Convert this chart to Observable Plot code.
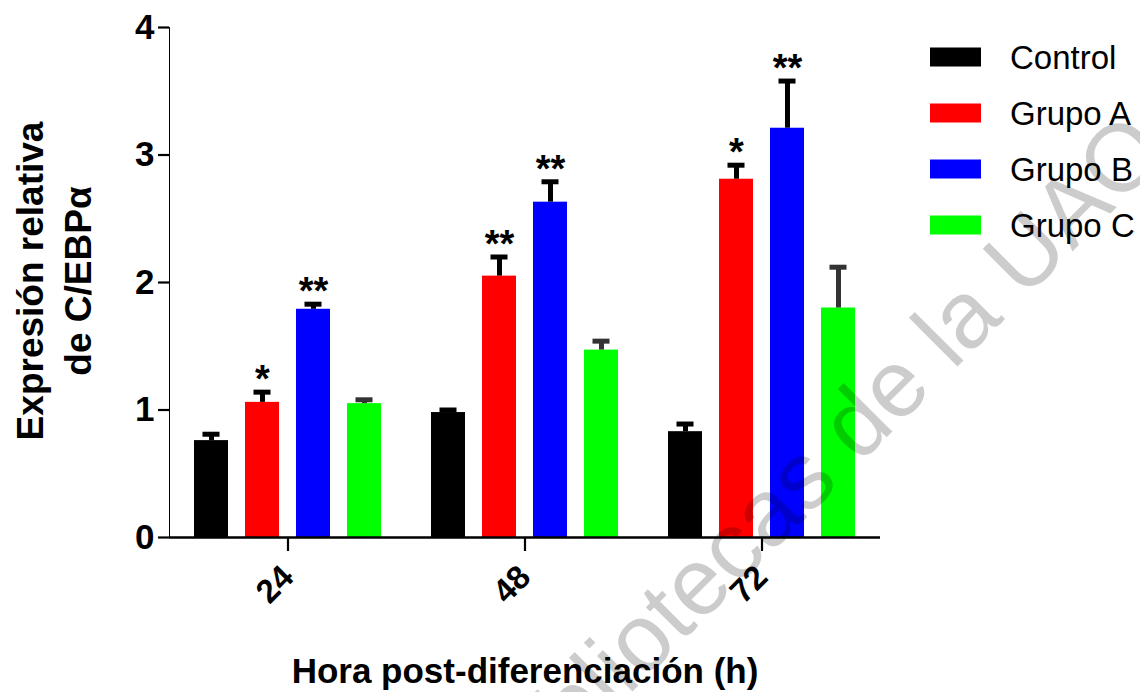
<!DOCTYPE html>
<html><head><meta charset="utf-8">
<script src="https://cdn.jsdelivr.net/npm/d3@7"></script>
<script src="https://cdn.jsdelivr.net/npm/@observablehq/plot@0.6"></script>
<style>
html,body{margin:0;padding:0;background:#fff;}
#chart{position:relative;width:1140px;height:692px;overflow:hidden;}
svg{font-family:"Liberation Sans",Arial,sans-serif;}
[aria-label^="y-axis"] text{font-size:35px;font-weight:bold;fill:#000;}
[aria-label^="fx-axis"] text{font-size:33px;font-weight:bold;fill:#000;}
[aria-label^="y-axis"] line,[aria-label^="y-axis"] path{stroke-width:2.2px;stroke:#000;}
[aria-label^="fx-axis"] line,[aria-label^="fx-axis"] path{stroke-width:2.2px;stroke:#000;}
</style></head><body><div id="chart"></div>
<script>
const hours = ["24", "48", "72"];
const groups = ["Control", "Grupo A", "Grupo B", "Grupo C"];
const colors = ["#000000", "#ff0000", "#0000ff", "#00ff00"];
const yTicks = [0, 1, 2, 3, 4];

const control = [0.76, 0.98, 0.83];
const grupoA = [1.06, 2.05, 2.81];
const grupoB = [1.79, 2.63, 3.21];
const grupoC = [1.05, 1.47, 1.80];

const errControl = [0.05, 0.02, 0.06];
const errA = [0.08, 0.15, 0.11];
const errB = [0.04, 0.16, 0.37];
const errC = [0.03, 0.07, 0.32];

const sigControl = ["", "", ""];
const sigA = ["*", "**", "*"];
const sigB = ["**", "**", "**"];
const sigC = ["", "", ""];

const xTitle = "Hora post-diferenciación (h)";
const yTitle = ["Expresión relativa", "de C/EBPα"];
const watermark = "Bibliotecas de la UAQ";

const seriesList = [
  [control, errControl, sigControl],
  [grupoA, errA, sigA],
  [grupoB, errB, sigB],
  [grupoC, errC, sigC]
];
const data = [];
hours.forEach((h, i) => {
  groups.forEach((g, j) => {
    const [m, e, s] = seriesList[j];
    data.push({hour: h, group: g, value: m[i], upper: m[i] + e[i], sig: s[i]});
  });
});

const plot = Plot.plot({
  width: 1140,
  height: 692,
  marginLeft: 168,
  marginRight: 260,
  marginTop: 27,
  marginBottom: 155,
  style: {fontFamily: "'Liberation Sans', Arial, sans-serif", background: "#fff", color: "#000"},
  fx: {domain: hours, padding: 0, label: null, tickSize: 14, tickPadding: 20, tickRotate: -45},
  x: {domain: groups, axis: null, paddingInner: 0.333, paddingOuter: 0.49, round: false},
  y: {domain: [0, 4], ticks: yTicks, tickFormat: d => String(d), tickSize: 11, tickPadding: 4, label: null, line: true},
  color: {domain: groups, range: colors},
  marks: [
    Plot.barY(data, {fx: "hour", x: "group", y: "value", fill: "group"}),
    Plot.ruleX(data, {filter: d => d.group !== "Grupo C", fx: "hour", x: "group", y1: "value", y2: "upper", stroke: "#000", strokeWidth: 5}),
    Plot.tickY(data, {filter: d => d.group !== "Grupo C", fx: "hour", x: "group", y: "upper", stroke: "#000", strokeWidth: 5, insetLeft: 8.5, insetRight: 8.5}),
    Plot.ruleX(data, {filter: d => d.group === "Grupo C", fx: "hour", x: "group", y1: "value", y2: "upper", stroke: "#333", strokeWidth: 5}),
    Plot.tickY(data, {filter: d => d.group === "Grupo C", fx: "hour", x: "group", y: "upper", stroke: "#333", strokeWidth: 5, insetLeft: 8.5, insetRight: 8.5}),
    Plot.text(data, {fx: "hour", x: "group", y: "upper", text: "sig", lineAnchor: "bottom", dy: 0, fontSize: 38, fontWeight: "bold", fill: "#000"}),
    Plot.ruleY([0], {stroke: "#000", strokeWidth: 2.5})
  ]
});

document.getElementById("chart").appendChild(plot);
const svg = d3.select(plot);

// Axis titles
const yt = svg.append("g").attr("font-family", "'Liberation Sans', Arial, sans-serif")
  .attr("font-weight", "bold").attr("font-size", 37).attr("fill", "#000").attr("text-anchor", "middle");
yt.append("text").attr("transform", "translate(43,281) rotate(-90)").text(yTitle[0]);
yt.append("text").attr("transform", "translate(91,281) rotate(-90)").text(yTitle[1]);
svg.append("text").attr("x", 525).attr("y", 683).attr("text-anchor", "middle")
  .attr("font-weight", "bold").attr("font-size", 35).attr("fill", "#000").text(xTitle);

// Legend
const color = plot.scale("color");
const lg = svg.append("g").attr("text-anchor", "start");
groups.forEach((g, i) => {
  const cy = 57 + i * 56;
  lg.append("rect").attr("x", 930).attr("y", cy - 9.5).attr("width", 51).attr("height", 19)
    .attr("fill", color.range[color.domain.indexOf(g)]);
  lg.append("text").attr("x", 1010).attr("y", cy).attr("dy", "0.36em").attr("text-anchor", "start")
    .attr("font-size", 33).attr("fill", "#000").text(g);
});

// Watermark
svg.append("text").attr("transform", "translate(516,808) rotate(-45)").attr("text-anchor", "start")
  .attr("font-size", 95).attr("fill", "#000").attr("fill-opacity", 0.2)
  .attr("pointer-events", "none").text(watermark);
</script>
</body></html>
